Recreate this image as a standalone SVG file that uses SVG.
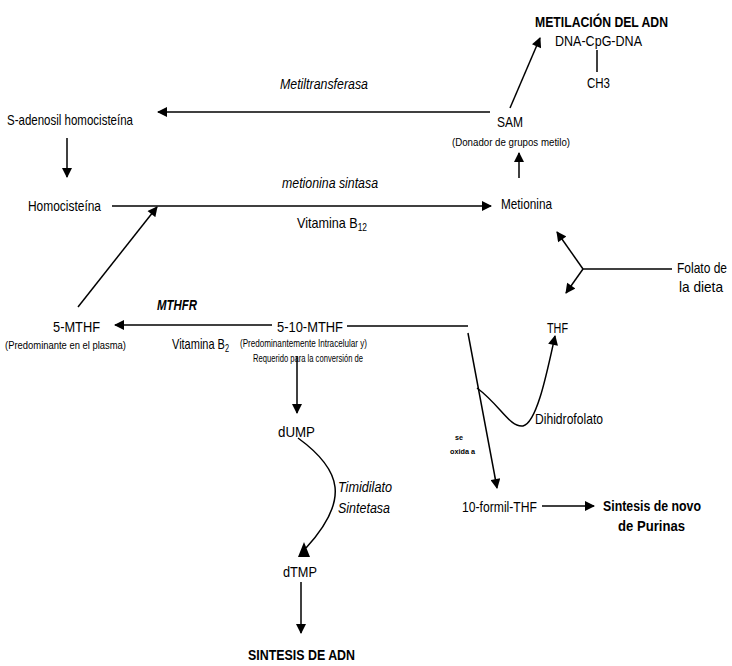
<svg xmlns="http://www.w3.org/2000/svg" width="732" height="666" viewBox="0 0 732 666">
<defs>
<marker id="ah" viewBox="0 0 10 10" refX="9" refY="5" markerWidth="11" markerHeight="10" markerUnits="userSpaceOnUse" orient="auto">
<path d="M0,0 L10,5 L0,10 z" fill="#000"/>
</marker>
<style>
text{font-family:"Liberation Sans",Arial,sans-serif;fill:#000;font-size:15px}
.b{font-weight:bold}
.i{font-style:italic}
.s{font-size:11px}
.xs{font-size:8px;font-weight:bold}
.l{fill:none;stroke:#000;stroke-width:1.5}
.a{marker-end:url(#ah)}
</style>
</defs>
<rect width="732" height="666" fill="#fff"/>
<g id="connectors">
<path class="l a" d="M510,108 L540,38"/>
<path class="l" d="M597,50 L597,72"/>
<path class="l a" d="M490,112 L158,112"/>
<path class="l a" d="M519,178 L519,153"/>
<path class="l a" d="M67,138 L67,177"/>
<path class="l a" d="M112,206 L491,206"/>
<path class="l a" d="M78,307 L157,207"/>
<path class="l" d="M672,269 L583,269"/>
<path class="l a" d="M583,269 L557,232"/>
<path class="l a" d="M583,269 L566,293"/>
<path class="l a" d="M272,325 L115,325"/>
<path class="l" d="M347,326 L468,326"/>
<path class="l a" d="M297,356 L297,413"/>
<path class="l a" d="M468,333 L497,488"/>
<path class="l a" d="M477,388 C500,405 510,428 523,426 C537,423 547,372 555,336"/>
<path class="l" d="M298,438 C342,470 350,500 306,548"/>
<path d="M304,542 L298,557 L310,557 z" fill="#000"/>
<path class="l a" d="M301,582 L301,633"/>
<path class="l a" d="M542,506 L594,506"/>
</g>
<g id="metilacion">
<text class="b" x="535" y="27" textLength="133" lengthAdjust="spacingAndGlyphs">METILACIÓN DEL ADN</text>
<text x="555" y="46" textLength="87" lengthAdjust="spacingAndGlyphs">DNA-CpG-DNA</text>
<text x="587" y="88" textLength="23" lengthAdjust="spacingAndGlyphs">CH3</text>
</g>
<g id="metiltransferasa"><text class="i" x="280" y="89" textLength="88" lengthAdjust="spacingAndGlyphs">Metiltransferasa</text></g>
<g id="sam">
<text x="497" y="127" textLength="26" lengthAdjust="spacingAndGlyphs">SAM</text>
<text class="s" x="452" y="146" textLength="118" lengthAdjust="spacingAndGlyphs">(Donador de grupos metilo)</text>
</g>
<g id="sah"><text x="7" y="125" textLength="126" lengthAdjust="spacingAndGlyphs">S-adenosil homocisteína</text></g>
<g id="homocisteina"><text x="28" y="211" textLength="73" lengthAdjust="spacingAndGlyphs">Homocisteína</text></g>
<g id="metionina-sintasa">
<text class="i" x="282" y="188" textLength="96" lengthAdjust="spacingAndGlyphs">metionina sintasa</text>
<text x="297" y="228" textLength="70" lengthAdjust="spacingAndGlyphs">Vitamina B<tspan font-size="10" dy="3">12</tspan></text>
</g>
<g id="metionina"><text x="501" y="209" textLength="51" lengthAdjust="spacingAndGlyphs">Metionina</text></g>
<g id="folato">
<text x="727" y="273" font-size="13" text-anchor="end" textLength="50" lengthAdjust="spacingAndGlyphs">Folato de</text>
<text x="723" y="292" font-size="13" text-anchor="end" textLength="44" lengthAdjust="spacingAndGlyphs">la dieta</text>
</g>
<g id="thf"><text x="547" y="333" textLength="21" lengthAdjust="spacingAndGlyphs">THF</text></g>
<g id="mthf5">
<text x="53" y="332" textLength="47" lengthAdjust="spacingAndGlyphs">5-MTHF</text>
<text class="s" x="5" y="349" textLength="121" lengthAdjust="spacingAndGlyphs">(Predominante en el plasma)</text>
</g>
<g id="mthfr">
<text class="i b" x="157" y="310" textLength="40" lengthAdjust="spacingAndGlyphs">MTHFR</text>
<text x="172" y="349" textLength="57" lengthAdjust="spacingAndGlyphs">Vitamina B<tspan font-size="10" dy="3">2</tspan></text>
</g>
<g id="mthf510">
<text x="277" y="332" textLength="66" lengthAdjust="spacingAndGlyphs">5-10-MTHF</text>
<text class="s" x="240" y="347" textLength="127" lengthAdjust="spacingAndGlyphs">(Predominantemente Intracelular y)</text>
<text class="s" x="253" y="362" textLength="110" lengthAdjust="spacingAndGlyphs">Requerido para la conversión de</text>
</g>
<g id="dump"><text x="278" y="437" textLength="37" lengthAdjust="spacingAndGlyphs">dUMP</text></g>
<g id="timidilato">
<text class="i" x="338" y="492" textLength="54" lengthAdjust="spacingAndGlyphs">Timidilato</text>
<text class="i" x="338" y="513" textLength="52" lengthAdjust="spacingAndGlyphs">Sintetasa</text>
</g>
<g id="dtmp"><text x="283" y="577" textLength="34" lengthAdjust="spacingAndGlyphs">dTMP</text></g>
<g id="sintesis-adn"><text class="b" x="248" y="660" textLength="107" lengthAdjust="spacingAndGlyphs">SINTESIS DE ADN</text></g>
<g id="dihidrofolato"><text x="535" y="424" textLength="68" lengthAdjust="spacingAndGlyphs">Dihidrofolato</text></g>
<g id="oxida">
<text class="xs" x="455" y="440" textLength="8" lengthAdjust="spacingAndGlyphs">se</text>
<text class="xs" x="450" y="454" textLength="25" lengthAdjust="spacingAndGlyphs">oxida a</text>
</g>
<g id="formil"><text x="462" y="512" textLength="75" lengthAdjust="spacingAndGlyphs">10-formil-THF</text></g>
<g id="purinas">
<text class="b" x="603" y="511" font-size="16" textLength="98" lengthAdjust="spacingAndGlyphs">Sintesis de novo</text>
<text class="b" x="618" y="531" font-size="16" textLength="67" lengthAdjust="spacingAndGlyphs">de Purinas</text>
</g>
</svg>
